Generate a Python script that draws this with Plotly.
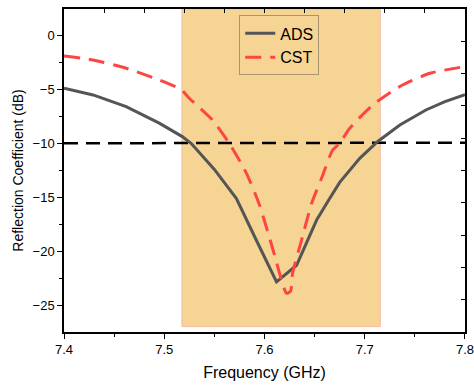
import plotly.graph_objects as go

# ADS (solid)
ads_freq = [7.400, 7.429, 7.462, 7.495, 7.518, 7.527, 7.550, 7.572, 7.592, 7.612,
            7.632, 7.652, 7.665, 7.675, 7.695, 7.713, 7.735, 7.761, 7.780, 7.800]
ads_s11 = [-4.86, -5.48, -6.57, -8.10, -9.35, -10.0, -12.4, -15.1, -19.0, -22.85,
           -21.3, -17.1, -15.1, -13.6, -11.37, -9.8, -8.27, -6.88, -6.1, -5.45]

# CST (dashed)
cst_freq = [7.400, 7.429, 7.462, 7.495, 7.517, 7.525, 7.548, 7.565, 7.582, 7.595,
            7.610, 7.618, 7.622, 7.626, 7.628, 7.637, 7.647, 7.657, 7.668, 7.675,
            7.685, 7.708, 7.735, 7.765, 7.800]
cst_s11 = [-1.86, -2.23, -3.0, -4.09, -5.0, -5.79, -7.8, -10.0, -12.76, -15.7,
           -20.35, -23.0, -23.9, -23.7, -22.05, -18.96, -15.55, -13.2, -10.6, -9.97,
           -8.58, -6.41, -4.7, -3.47, -2.85]

# -10 dB reference
ref_freq = [7.40, 7.80]
ref_s11 = [-9.97, -9.92]

# highlighted band
band_f0, band_f1 = 7.5176, 7.7155
band_bottom = -27.0

x_ticks = [7.4, 7.5, 7.6, 7.7, 7.8]
x_labels = ["7.4", "7.5", "7.6", "7.7", "7.8"]
y_ticks = [0, -5, -10, -15, -20, -25]
y_labels = ["0", "\u22125", "\u221210", "\u221215", "\u221220", "\u221225"]

font = "Liberation Sans, Arial, sans-serif"

fig = go.Figure()
fig.add_trace(go.Scatter(x=ref_freq, y=ref_s11, mode="lines", showlegend=False,
                         line=dict(color="black", width=2.5, dash="14px,8px")))
fig.add_trace(go.Scatter(x=ads_freq, y=ads_s11, mode="lines", name="ADS",
                         line=dict(color="#555555", width=3)))
fig.add_trace(go.Scatter(x=cst_freq, y=cst_s11, mode="lines", name="CST",
                         line=dict(color="#FF4444", width=3, dash="16px,9px", shape="spline", smoothing=0.6)))
# invisible trace to activate top/right axes
fig.add_trace(go.Scatter(x=[7.4], y=[0], xaxis="x2", yaxis="y2", mode="markers",
                         marker=dict(opacity=0), showlegend=False, hoverinfo="skip"))

fig.add_shape(type="rect", xref="x", yref="y", x0=band_f0, x1=band_f1,
              y0=band_bottom, y1=2.5, fillcolor="#F6D494",
              line=dict(color="#F9B9A2", width=1), layer="below")

fig.update_layout(
    width=474, height=387,
    margin=dict(l=64, r=9, t=9, b=55, autoexpand=False),
    paper_bgcolor="white", plot_bgcolor="white",
    font=dict(family=font, color="black", size=13),
    showlegend=True,
    legend=dict(x=0.437, y=0.98, xanchor="left", yanchor="top",
                bgcolor="rgba(0,0,0,0)", bordercolor="#A8946E", borderwidth=1,
                font=dict(size=16, family=font), tracegroupgap=0,
                itemwidth=30),
    xaxis=dict(range=[7.4, 7.80001], tickvals=x_ticks, ticktext=x_labels,
               ticklabeloverflow="allow", automargin=False,
               showline=True, linecolor="black", linewidth=1.5,
               ticks="outside", ticklen=5, tickwidth=1.3, tickcolor="black",
               minor=dict(ticks="outside", ticklen=3, tickvals=[7.45, 7.55, 7.65, 7.75],
                          tickcolor="black", tickwidth=1.2),
               showgrid=False, zeroline=False,
               title=dict(text="Frequency (GHz)", font=dict(size=16), standoff=10),
               tickfont=dict(size=13)),
    yaxis=dict(range=[-27.5, 2.5], tickvals=y_ticks, ticktext=y_labels,
               automargin=False,
               showline=True, linecolor="black", linewidth=1.5,
               ticks="outside", ticklen=5, tickwidth=1.3, tickcolor="black",
               minor=dict(ticks="outside", ticklen=3, tickvals=[-2.5, -7.5, -12.5, -17.5, -22.5],
                          tickcolor="black", tickwidth=1.2),
               showgrid=False, zeroline=False,
               title=dict(text="Reflection Coefficient (dB)", font=dict(size=14), standoff=6),
               tickfont=dict(size=13)),
    xaxis2=dict(range=[7.4, 7.8], overlaying="x", side="top", tick0=7.4, dtick=0.04,
                showline=True, linecolor="black", linewidth=1.5,
                ticks="inside", ticklen=4, tickwidth=1.2, tickcolor="black",
                showticklabels=False, showgrid=False, zeroline=False),
    yaxis2=dict(range=[-27.5, 2.5], overlaying="y", side="right", tick0=2.5, dtick=3,
                showline=True, linecolor="black", linewidth=1.5,
                ticks="inside", ticklen=4, tickwidth=1.2, tickcolor="black",
                showticklabels=False, showgrid=False, zeroline=False),
)
fig.write_html("out.html")
